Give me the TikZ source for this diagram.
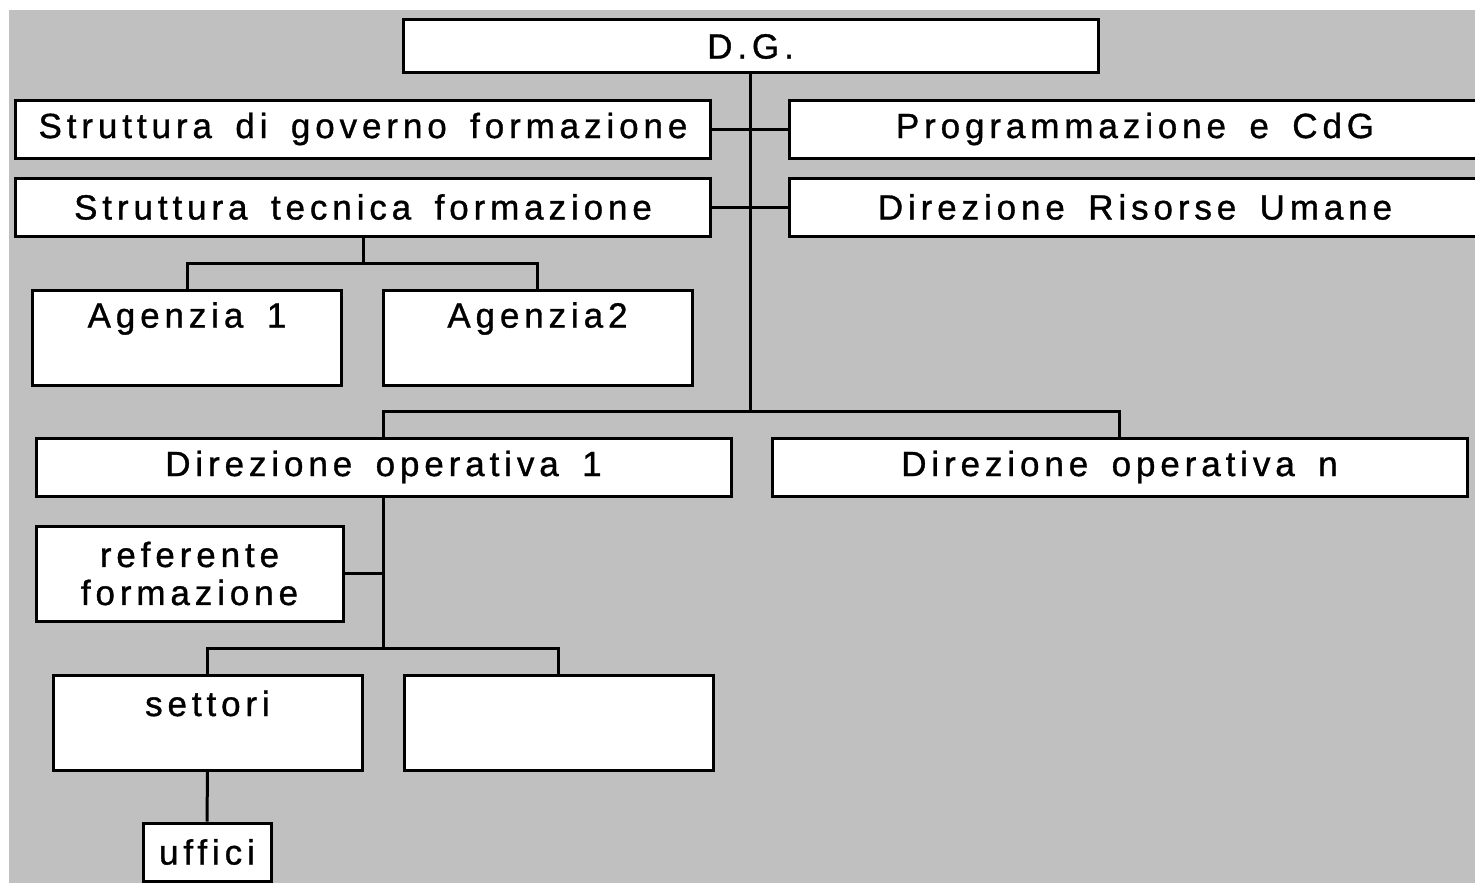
\documentclass[tikz,border=0pt]{standalone}
\usepackage{fontspec}
\newfontfamily\orgfont{Liberation Sans}[LetterSpace=14, WordSpace=1.6, FakeBold=1]
\definecolor{panel}{RGB}{192,192,192}
\newcommand{\orgtext}{\orgfont\fontsize{35}{38}\selectfont}
\begin{document}
\begin{tikzpicture}[x=1pt,y=-1pt,
  unit/.style={draw=black, fill=white, line width=3pt, inner sep=0pt,
    font=\orgtext, align=center},
  wide/.style={unit, minimum width=695pt, minimum height=58pt},
  tall/.style={unit, minimum width=309pt, minimum height=95pt},
  toptext/.style={label={[anchor=center, yshift=-30pt, font=\orgtext]north:#1}},
  link/.style={line width=3pt}]
\useasboundingbox (0,0) rectangle (1475,883);
\clip (0,0) rectangle (1475,883);
\fill[panel] (9,10) rectangle (1475,883);

% top of the hierarchy
\node[unit, minimum width=695pt, minimum height=53pt] (dg) at (750.5,46.5) {D.G.};

% staff units beside the director
\node[wide] (sgf) at (363,129) {Struttura di governo formazione};
\node[wide, minimum width=692pt] (pcdg) at (1135,129) {Programmazione e CdG};
\node[wide] (stf) at (363,207) {Struttura tecnica formazione};
\node[wide, minimum width=692pt] (dru) at (1135,207) {Direzione Risorse Umane};

% agencies
\node[tall, toptext={Agenzia 1}] (ag1) at (187,337.5) {};
\node[tall, toptext={Agenzia2}] (ag2) at (537.5,337.5) {};

% operating directorates
\node[wide] (do1) at (383.5,467) {Direzione operativa 1};
\node[wide] (don) at (1119.5,467) {Direzione operativa n};

% inside directorate 1
\node[tall, minimum width=307pt] (ref) at (189.5,573.5) {referente\\formazione};
\node[tall, toptext={settori}] (set) at (207.5,722.5) {};
\node[tall] (emp) at (558.5,722.5) {};
\node[unit, minimum width=128pt, minimum height=58pt] (uff) at (207,852) {uffici};

% bus points
\coordinate (dobus) at (750.5,411);
\coordinate (agbus) at (363,263);
\coordinate (setbus) at (383.5,648);

% connectors
\draw[link] (dg.south) -- (dobus);
\draw[link] (sgf.east) -- (pcdg.west);
\draw[link] (stf.east) -- (dru.west);
\draw[link] (stf.south) -- (agbus);
\draw[link] (ag1.north) |- (agbus) -| (ag2.north);
\draw[link] (do1.north) |- (dobus) -| (don.north);
\draw[link] (do1.south) -- (setbus);
\draw[link] (ref.east) -- (do1.south |- ref.east);
\draw[link] (set.north) |- (setbus) -| (emp.north);
\draw[link] (set.south) -- (uff.north);
\end{tikzpicture}
\end{document}
